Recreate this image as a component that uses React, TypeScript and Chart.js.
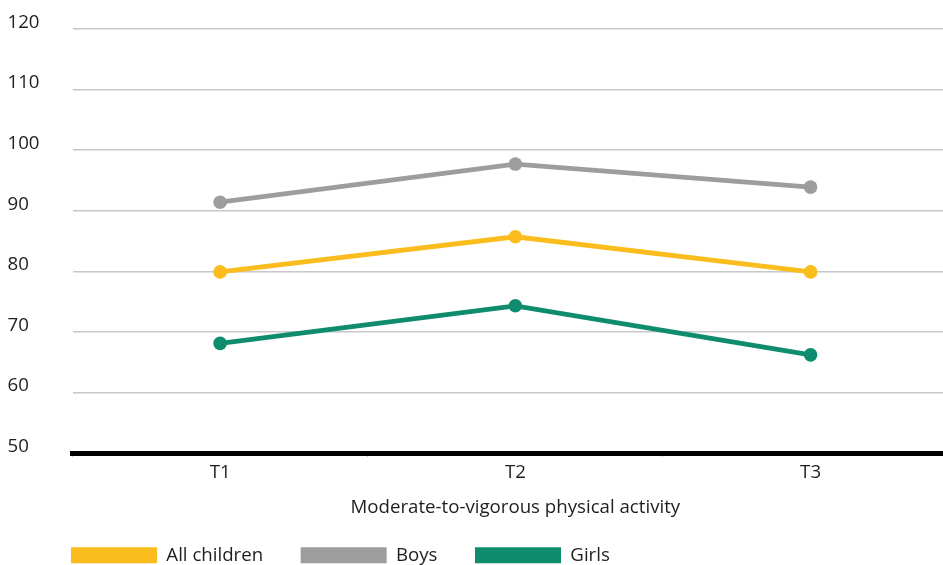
import React, { useEffect, useRef } from 'react';
import { Chart, registerables } from 'chart.js';

Chart.register(...registerables);

const categories = ['T1', 'T2', 'T3'];
const seriesLabels = ['All children', 'Boys', 'Girls'];
const allChildren = [79.9, 85.7, 79.9];
const boys = [91.4, 97.7, 93.9];
const girls = [68.1, 74.3, 66.2];
const yTicks = [50, 60, 70, 80, 90, 100, 110, 120];
const xTitle = 'Moderate-to-vigorous physical activity';

const seriesColors = ['#FBBC1D', '#9D9D9D', '#0F8C6E'];
const FONT_FAMILY = '"Open Sans", "Noto Sans", sans-serif';
const TEXT = '#1e1e1e';

const legendPlacer = {
  id: 'legendPlacer',
  afterLayout(chart: any) {
    const lg = chart.legend;
    if (!lg) return;
    const pad = lg.options.labels.padding;
    lg.left = 71 - pad;
    lg.top = 546 - pad;
  },
};

export default function App() {
  const ref = useRef<HTMLCanvasElement | null>(null);

  useEffect(() => {
    if (!ref.current) return;
    const font = { family: FONT_FAMILY, size: 18.67 };
    const values = [allChildren, boys, girls];
    const chart = new Chart(ref.current, {
      type: 'line',
      data: {
        labels: categories,
        datasets: values.map((v, i) => ({
          label: seriesLabels[i],
          data: v,
          borderColor: seriesColors[i],
          backgroundColor: seriesColors[i],
          pointBackgroundColor: seriesColors[i],
          pointBorderWidth: 0,
          pointRadius: 6.8,
          pointHoverRadius: 6.8,
          borderWidth: 4.8,
          tension: 0,
          fill: false,
        })),
      },
      options: {
        responsive: false,
        animation: false,
        devicePixelRatio: 1,
        events: [],
        layout: { padding: { left: 7.5, right: 2.5, top: 29, bottom: 0 } },
        scales: {
          x: {
            offset: true,
            grid: {
              offset: true,
              drawOnChartArea: false,
              drawTicks: true,
              tickLength: 4,
              color: '#c8c8c8',
              lineWidth: 1,
            },
            border: { display: true, color: '#000000', width: 5 },
            ticks: { padding: 4.5, font, color: TEXT },
            title: {
              display: true,
              text: xTitle,
              font,
              color: TEXT,
              padding: { top: 0, bottom: 26 },
            },
            afterFit(scale: any) {
              scale.height = 92;
            },
          },
          y: {
            min: yTicks[0],
            max: yTicks[yTicks.length - 1],
            afterBuildTicks(scale: any) {
              scale.ticks = yTicks.map((v) => ({ value: v }));
            },
            grid: { color: '#c8c8c8', lineWidth: 1.5, drawTicks: false },
            border: { display: false },
            ticks: {
              crossAlign: 'far',
              labelOffset: -6.5,
              padding: 0,
              font,
              color: TEXT,
            },
            afterFit(scale: any) {
              scale.width = 65;
            },
          },
        },
        plugins: {
          tooltip: { enabled: false },
          legend: {
            display: true,
            position: 'bottom',
            align: 'start',
            maxHeight: 20,
            labels: {
              boxWidth: 86,
              boxHeight: 16,
              padding: 37.5,
              font,
              color: TEXT,
              generateLabels: (c: any) =>
                (Chart.defaults.plugins.legend.labels as any)
                  .generateLabels(c)
                  .map((l: any) => ({ ...l, lineWidth: 0 })),
            },
          },
        },
      },
      plugins: [legendPlacer],
    } as any);
    return () => chart.destroy();
  }, []);

  return (
    <div
      style={{
        position: 'fixed',
        left: 0,
        top: 0,
        width: 943,
        height: 565,
        overflow: 'hidden',
        background: '#ffffff',
      }}
    >
      <canvas
        ref={ref}
        width={965}
        height={565}
        style={{ width: 965, height: 565, display: 'block' }}
      />
    </div>
  );
}
